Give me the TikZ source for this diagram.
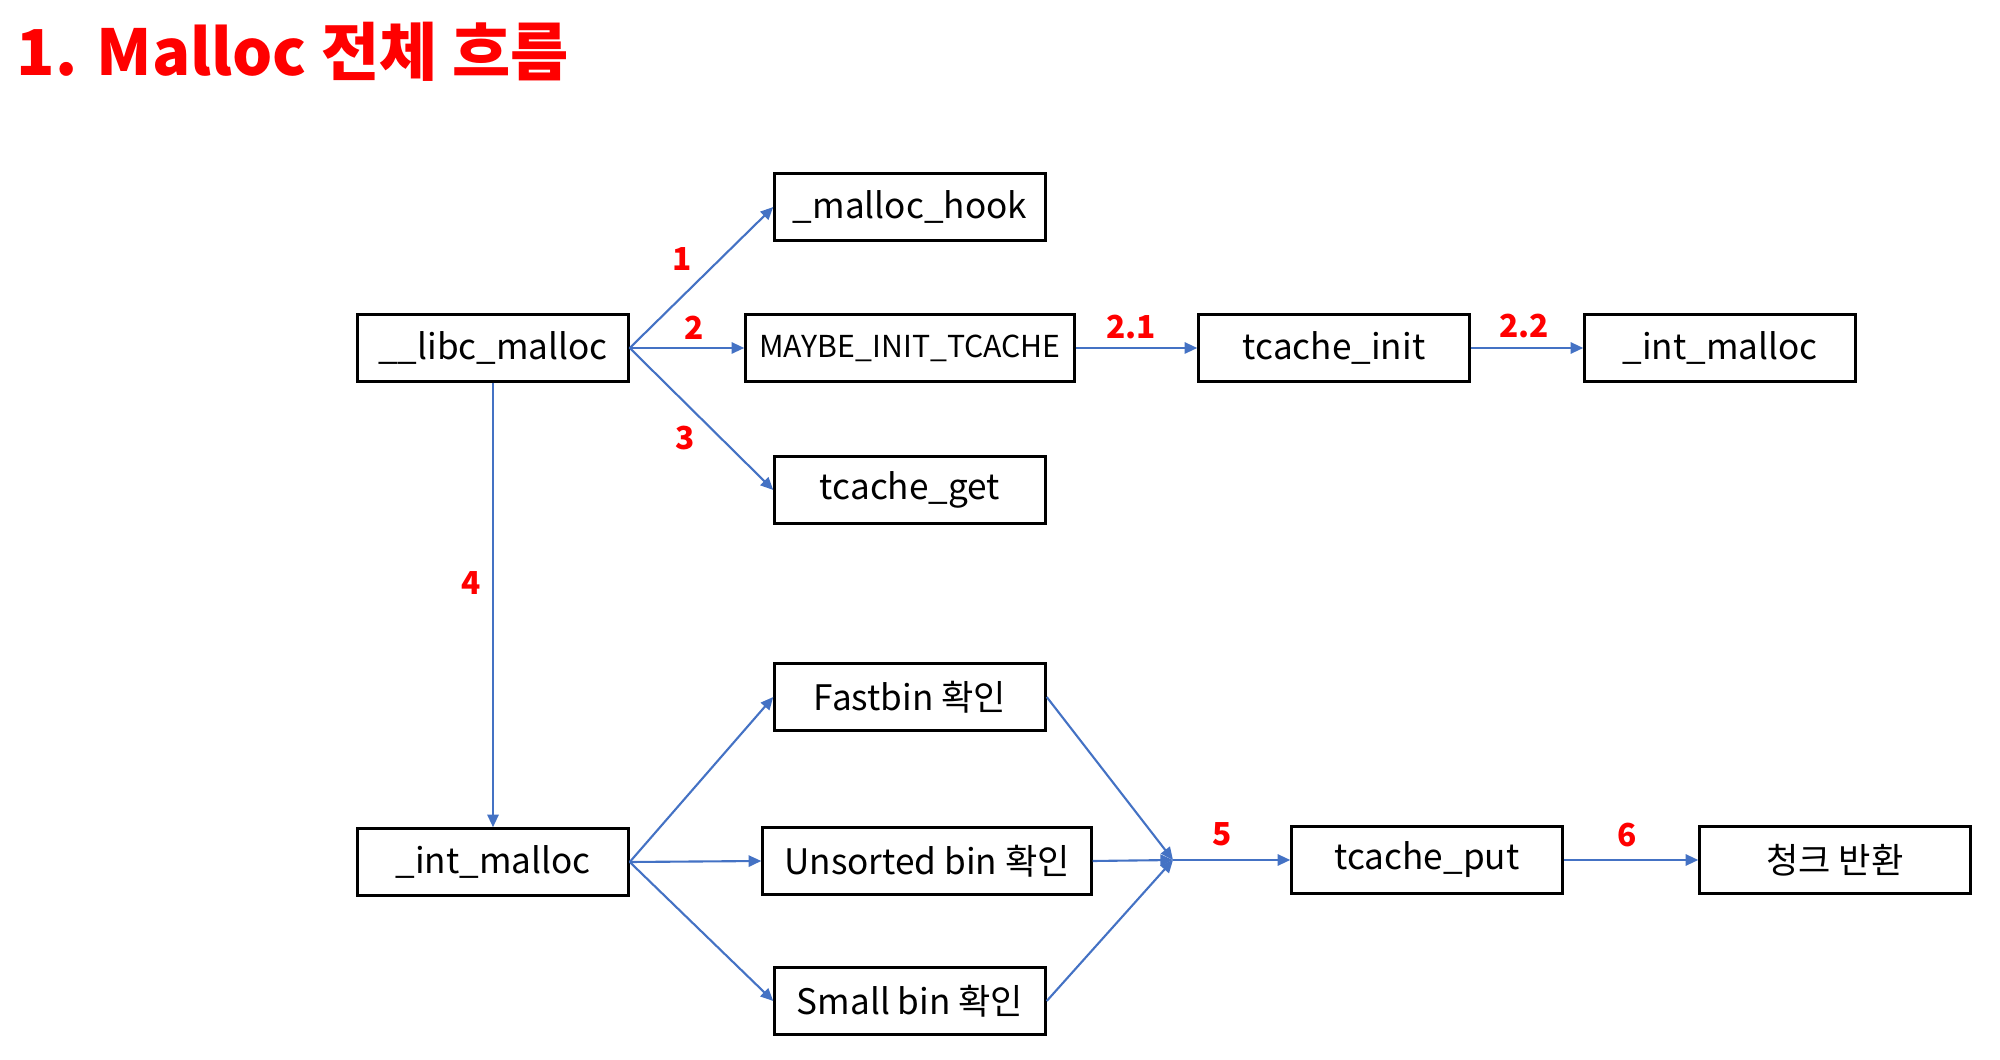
\documentclass[tikz,border=0pt]{standalone}
\usepackage{fontspec}
\setmainfont{Noto Sans CJK KR}
\usetikzlibrary{arrows.meta}
\definecolor{flowblue}{HTML}{4472C4}
\definecolor{stepred}{HTML}{FF0000}
\begin{document}
\begin{tikzpicture}[
  fnbox/.style={draw=black, line width=0.7pt, minimum width=2.71cm, minimum height=0.67cm, inner sep=0pt, font=\fontsize{10}{12}\selectfont},
  wide/.style={minimum width=3.29cm},
  flow/.style={draw=flowblue, line width=0.6pt, -{Triangle[length=3.6pt, width=3.2pt]}},
  num/.style={font=\fontsize{9}{10}\selectfont\bfseries, text=stepred, inner sep=0pt}
]
  \useasboundingbox (0,0) rectangle (20,-10.6);

  % === TITLE ===
  \node[anchor=base west, inner sep=0pt, font=\fontsize{18}{21}\selectfont\bfseries, text=stepred] (title) at (0.16,-0.76) {1. Malloc 전체 흐름};

  % === UPPER ROW: __libc_malloc ===
  \node[fnbox] (libc) at (4.93,-3.48) {\_\_libc\_malloc};
  \node[fnbox] (hook) at (9.10,-2.07) {\_malloc\_hook};
  \node[fnbox, wide, font=\fontsize{8.6}{10}\selectfont] (maybe) at (9.10,-3.48) {MAYBE\_INIT\_TCACHE};
  \node[fnbox] (get) at (9.10,-4.90) {tcache\_get};
  \node[fnbox] (init) at (13.34,-3.48) {tcache\_init};
  \node[fnbox] (intmtop) at (17.20,-3.48) {\_int\_malloc};

  \draw[flow] (libc.east) -- (hook.west);
  \draw[flow] (libc.east) -- (maybe.west);
  \draw[flow] (libc.east) -- (get.west);
  \draw[flow] (maybe.east) -- (init.west);
  \draw[flow] (init.east) -- (intmtop.west);

  \node[num] (n1) at (6.82,-2.59) {1};
  \node[num] (n2) at (6.94,-3.28) {2};
  \node[num] (n3) at (6.85,-4.38) {3};
  \node[num] (n21) at (11.31,-3.27) {2.1};
  \node[num] (n22) at (15.24,-3.26) {2.2};

  % === LOWER ROW: _int_malloc ===
  \node[fnbox] (intm) at (4.93,-8.62) {\_int\_malloc};
  \node[fnbox] (fast) at (9.10,-6.97) {Fastbin 확인};
  \node[fnbox, wide] (unsorted) at (9.27,-8.61) {Unsorted bin 확인};
  \node[fnbox] (small) at (9.10,-10.01) {Small bin 확인};
  \coordinate (merge) at (11.73,-8.60);
  \node[fnbox] (put) at (14.27,-8.60) {tcache\_put};
  \node[fnbox] (ret) at (18.35,-8.60) {청크 반환};

  \draw[flow] (libc.south) -- (intm.north);
  \node[num] (n4) at (4.71,-5.83) {4};

  \draw[flow] (intm.east) -- (fast.west);
  \draw[flow] (intm.east) -- (unsorted.west);
  \draw[flow] (intm.east) -- (small.west);

  % Merge into tcache_put
  \draw[flow] (fast.east) -- (merge);
  \draw[flow] (unsorted.east) -- (merge);
  \draw[flow] (small.east) -- (merge);
  \draw[flow] (merge) -- (put.west);
  \draw[flow] (put.east) -- (ret.west);
  \node[num] (n5) at (12.22,-8.34) {5};
  \node[num] (n6) at (16.27,-8.35) {6};
\end{tikzpicture}
\end{document}
